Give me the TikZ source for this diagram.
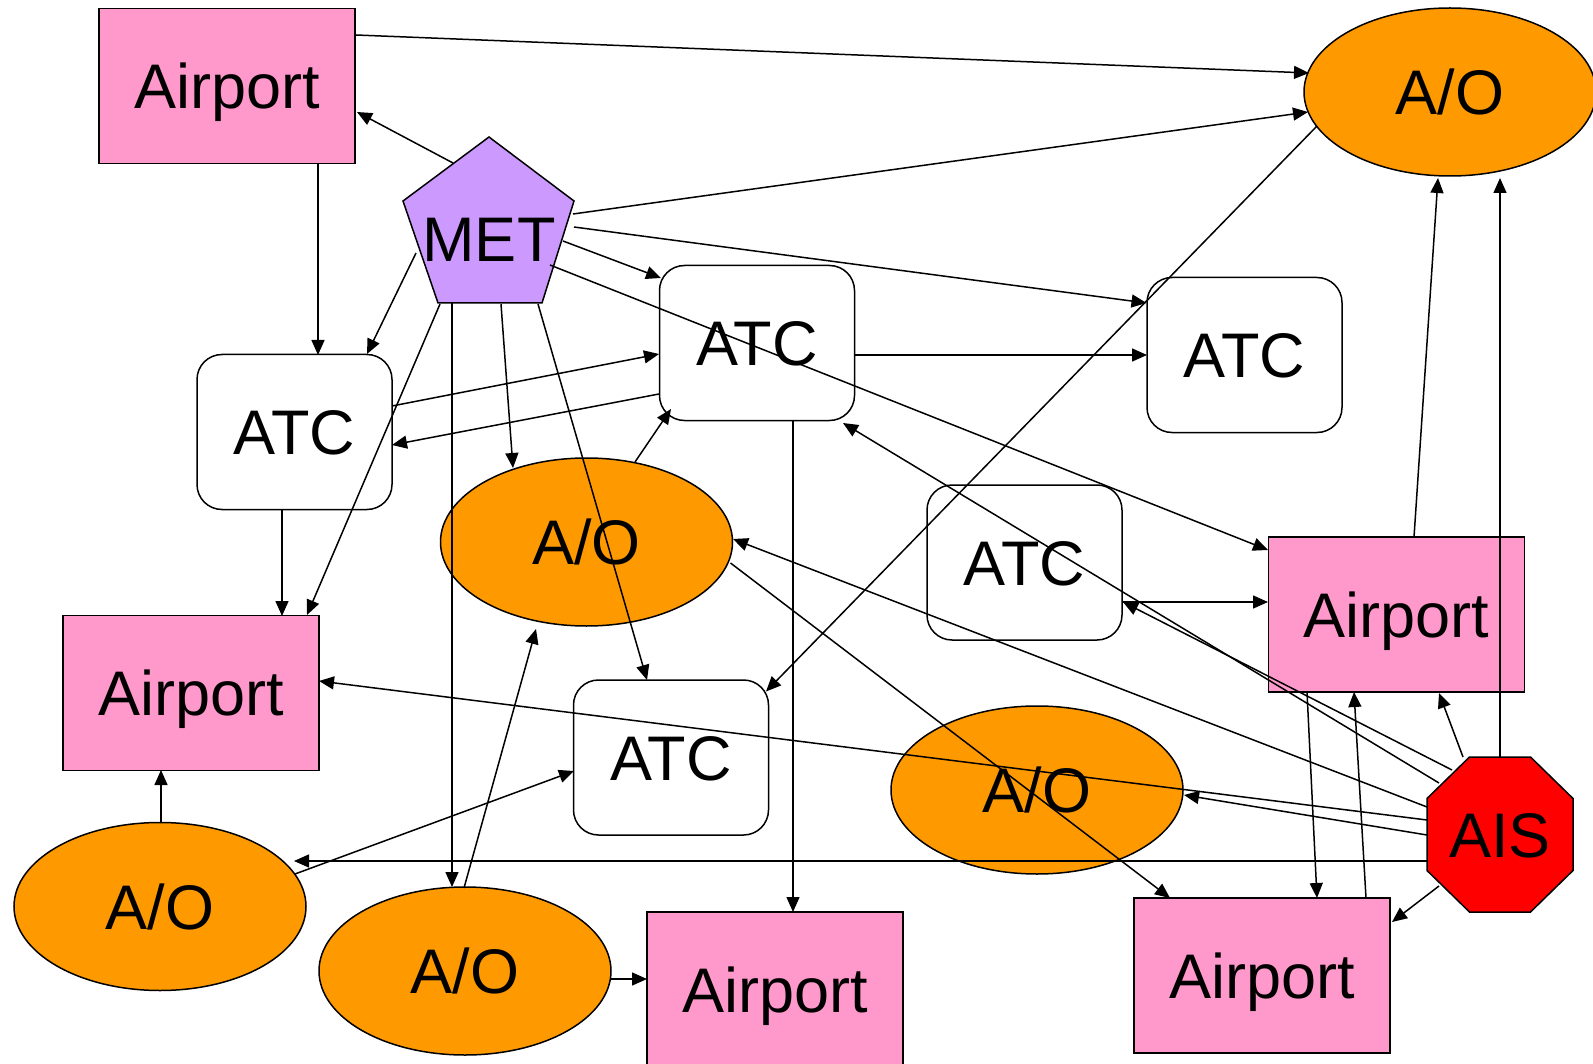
\documentclass[tikz,border=0pt]{standalone}
\usepackage{fontspec}
\setmainfont{Liberation Sans}
\usetikzlibrary{arrows.meta,calc,shapes.geometric}
\definecolor{apink}{HTML}{FF99CC}
\definecolor{aorange}{HTML}{FF9900}
\definecolor{apurple}{HTML}{CC99FF}
\definecolor{ared}{HTML}{FF0000}
\newcommand\myedge[4]{\draw[arr] ($(#1.center)+(#2)$) -- ($(#3.center)+(#4)$);}
\begin{document}
\begin{tikzpicture}[x=1pt,y=-1pt,
  lbl/.style={inner sep=0pt, font=\fontsize{63}{70}\selectfont, text height=45pt, text depth=0pt},
  base/.style={lbl, draw=black, line width=1.5pt},
  airport/.style={base, rectangle, fill=apink, minimum width=256pt, minimum height=155pt},
  atc/.style={base, rectangle, rounded corners=25pt, fill=white, minimum width=195pt, minimum height=155pt},
  ao/.style={base, ellipse, fill=aorange, minimum width=292pt, minimum height=168pt},
  shapeline/.style={draw=black, line width=1.5pt},
  arr/.style={line width=1.5pt, -{Triangle[length=15pt,width=13pt]}}]
\useasboundingbox (0,0) rectangle (1593,1064);
% shapes
\node[airport] (ap1) at (227,86) {Airport};
\node[airport] (ap2) at (191,693) {Airport};
\node[airport] (ap3) at (775,989.5) {Airport};
\node[airport] (ap4) at (1396.5,614.5) {Airport};
\node[airport] (ap5) at (1262,975.5) {Airport};
\node[atc] (atc1) at (294.5,432) {ATC};
\node[atc] (atc2) at (757,343) {ATC};
\node[atc] (atc3) at (1244.5,355) {ATC};
\node[atc] (atc4) at (1024.5,562.5) {ATC};
\node[atc] (atc5) at (671,757.5) {ATC};
\node[ao] (ao1) at (1450,92) {A/O};
\node[ao] (ao2) at (586.5,542) {A/O};
\node[ao] (ao3) at (160,906.5) {A/O};
\node[ao] (ao4) at (465,971) {A/O};
\node[ao] (ao5) at (1037,790) {A/O};
\filldraw[shapeline, fill=apurple] (489,137) -- (574,201) -- (542,303) -- (438,303) -- (403,201) -- cycle;
\node[lbl] (met) at (489,239) {MET};
\filldraw[shapeline, fill=ared] (1469.5,757) -- (1530.5,757) -- (1573,798.5) -- (1573,870.5)
  -- (1530.5,912) -- (1469.5,912) -- (1427,870.5) -- (1427,798.5) -- cycle;
\node[lbl] (ais) at (1500,834.5) {AIS};
% connectors
\myedge{ap1}{129,-51}{ao1}{-141,-19}
\myedge{met}{84,-25}{ao1}{-142,20}
\myedge{met}{-36,-76}{ap1}{130,26}
\myedge{ap1}{91,77}{atc1}{23.5,-77}
\myedge{met}{85,-12}{atc3}{-98,-52}
\myedge{met}{74,2}{atc2}{-96,-65}
\myedge{met}{61,26}{ap4}{-128.5,-64.5}
\myedge{met}{-73,14}{atc1}{72.5,-78}
\myedge{met}{-49,65}{ap2}{116,-78}
\myedge{met}{-37,64}{ao4}{-13,-84}
\myedge{met}{12,65}{ao2}{-73.5,-74}
\myedge{met}{49,65}{atc5}{-24,-77.5}
\myedge{atc1}{97.5,-26}{atc2}{-98,11}
\myedge{atc2}{-98,51}{atc1}{97.5,13}
\myedge{ao2}{48.5,-80}{atc2}{-86,66}
\myedge{atc2}{98,12}{atc3}{-97.5,0}
\myedge{atc2}{36,78}{ap3}{18,-77.5}
\myedge{ao1}{-133,34}{atc5}{95,-66}
\myedge{ais}{-61,-51.5}{atc2}{86,80}
\myedge{ais}{-48,-64.5}{atc4}{98.5,39.5}
\myedge{atc4}{97.5,39.5}{ap4}{-128.5,-12.5}
\myedge{ais}{-73,-27.5}{ao2}{146.5,-3}
\myedge{ais}{-73,-14.5}{ap2}{128,-12}
\myedge{ais}{-73,0.5}{ao5}{147,5}
\myedge{ais}{-73,26.5}{ao3}{134,-45.5}
\myedge{ais}{-37,-77.5}{ap4}{42.5,78.5}
\myedge{ais}{0,-77.5}{ao1}{50,86}
\myedge{ap4}{17.5,-77.5}{ao1}{-12,86}
\myedge{ap4}{-89.5,77.5}{ap5}{55,-77.5}
\myedge{ap5}{104,-77.5}{ap4}{-42.5,77.5}
\myedge{ais}{-61,51.5}{ap5}{130,-53.5}
\myedge{ao2}{144,21}{ap5}{-92,-77.5}
\myedge{atc1}{-12.5,77}{ap2}{91,-77}
\myedge{ao3}{1,-84}{ap2}{-30,77}
\myedge{ao3}{135,-32.5}{atc5}{-97,13.5}
\myedge{ao4}{-1,-83}{ao2}{-50.5,87}
\myedge{ao4}{146,8}{ap3}{-128,-10.5}
\end{tikzpicture}
\end{document}
